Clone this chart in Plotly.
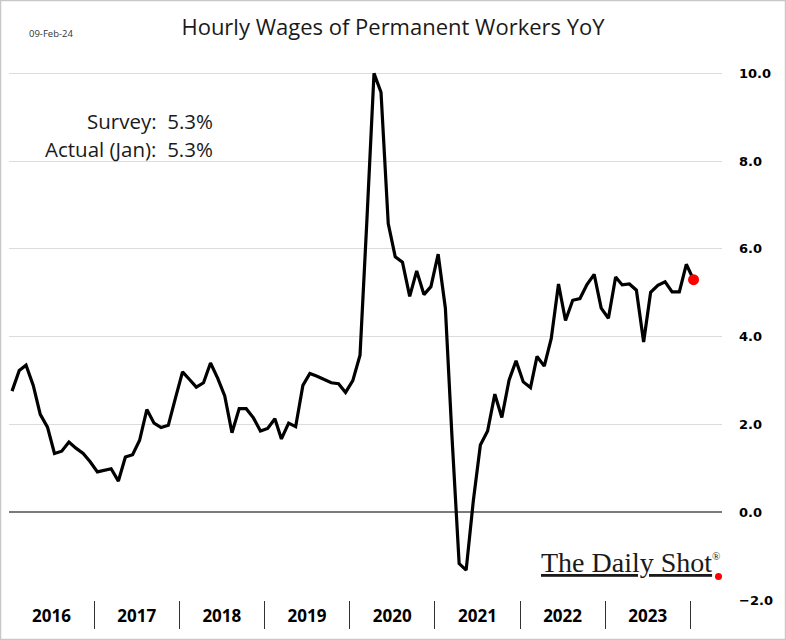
import pandas as pd
import plotly.graph_objects as go

# ---- data ----
months = pd.date_range("2016-01-01", "2024-01-01", freq="MS")
values = [
    2.76, 3.23, 3.35, 2.89, 2.23, 1.94, 1.34, 1.39, 1.60, 1.46, 1.34, 1.15,   # 2016
    0.92, 0.96, 0.99, 0.71, 1.26, 1.31, 1.64, 2.34, 2.03, 1.93, 1.98, 2.59,   # 2017
    3.20, 3.02, 2.85, 2.95, 3.40, 3.05, 2.65, 1.81, 2.36, 2.36, 2.15, 1.85,   # 2018
    1.91, 2.13, 1.67, 2.03, 1.95, 2.89, 3.16, 3.10, 3.02, 2.95, 2.93, 2.73,   # 2019
    3.00, 3.58, 6.60, 10.0, 9.57, 6.58, 5.82, 5.70, 4.92, 5.50, 4.96, 5.14,   # 2020
    5.88, 4.65, 1.75, -1.17, -1.32, 0.27, 1.53, 1.85, 2.69, 2.16, 3.01, 3.45, # 2021
    2.97, 2.84, 3.55, 3.33, 3.96, 5.20, 4.37, 4.83, 4.87, 5.19, 5.42, 4.65,   # 2022
    4.42, 5.36, 5.18, 5.20, 5.06, 3.88, 5.01, 5.17, 5.25, 5.02, 5.02, 5.65,   # 2023
    5.30,                                                                     # 2024
]
y_ticks = [-2, 0, 2, 4, 6, 8, 10]
title_text = "Hourly Wages of Permanent Workers YoY"
date_text = "09-Feb-24"
survey_text = "Survey:\u00a0\u00a05.3%"
actual_text = "Actual (Jan):\u00a0\u00a05.3%"

# points placed mid-month so that year boundaries fall between categories
x_pts = months + pd.Timedelta(days=14)

fig = go.Figure()
fig.add_trace(go.Scatter(
    x=x_pts, y=values, mode="lines",
    line=dict(color="black", width=3.2),
    hoverinfo="skip", showlegend=False,
))
fig.add_trace(go.Scatter(
    x=[x_pts[-1]], y=[values[-1]], mode="markers",
    marker=dict(color="#ff0000", size=11),
    hoverinfo="skip", showlegend=False, cliponaxis=False,
))

L, R, T, B = 9, 64, 69, 40
W, H = 786, 640
pw, ph = W - L - R, H - T - B


def px(xp):
    return (xp - L) / pw


def py(yp):
    return (H - B - yp) / ph


fig.update_layout(
    width=W, height=H,
    margin=dict(l=L, r=R, t=T, b=B, pad=0),
    paper_bgcolor="white", plot_bgcolor="white",
    title=dict(text=title_text, x=0.5, xref="container", xanchor="center",
               y=1 - 27 / H, yref="container", yanchor="middle",
               font=dict(family="Open Sans", size=22, color="#1a1a1a")),
    xaxis=dict(
        type="date",
        range=["2016-01-02", "2024-05-16"],
        dtick="M12", tick0="2016-01-01",
        ticklabelmode="period", tickformat="%Y",
        ticks="outside", ticklen=28, tickwidth=1, tickcolor="#333333",
        ticklabelstandoff=-27,
        showgrid=False, showline=False, zeroline=False,
        tickfont=dict(family="Open Sans", size=17, color="black", weight="bold"),
    ),
    yaxis=dict(
        side="right", range=[-2, 10.1],
        tickvals=y_ticks, tickformat=".1f",
        showgrid=True, gridcolor="#dcdcdc", gridwidth=1,
        zeroline=True, zerolinecolor="#7a7a7a", zerolinewidth=1.5,
        showline=False, ticks="",
        ticklabelstandoff=16,
        tickfont=dict(family="DejaVu Sans", size=13, color="black", weight="bold"),
    ),
    annotations=[
        dict(text=date_text, xref="paper", yref="paper", x=px(27), y=py(34),
             xanchor="left", yanchor="middle", showarrow=False,
             font=dict(family="Open Sans", size=9.5, color="#333333")),
        dict(text=survey_text, xref="paper", yref="paper", x=px(215), y=py(121),
             xanchor="right", yanchor="middle", showarrow=False,
             font=dict(family="Open Sans", size=20.5, color="#1a1a1a")),
        dict(text=actual_text, xref="paper", yref="paper", x=px(215), y=py(149),
             xanchor="right", yanchor="middle", showarrow=False,
             font=dict(family="Open Sans", size=20.5, color="#1a1a1a")),
        dict(text="<u>The Daily Shot</u><sup><span style='font-size:11px'>®</span></sup>",
             xref="paper", yref="paper",
             x=px(722), y=py(562), xanchor="right", yanchor="middle", showarrow=False,
             font=dict(family="Liberation Serif", size=28, color="#1a1a1a")),
    ],
    shapes=[
        dict(type="circle", xref="paper", yref="paper",
             x0=px(715), x1=px(722), y0=py(580), y1=py(573),
             fillcolor="#ff0000", line=dict(width=0)),
        dict(type="rect", xref="paper", yref="paper",
             x0=px(0.5), x1=px(785.5), y0=py(639.5), y1=py(0.5),
             line=dict(color="#c8c8c8", width=1.5), fillcolor="rgba(0,0,0,0)",
             layer="above"),
    ],
)

fig.write_html("out.html")
